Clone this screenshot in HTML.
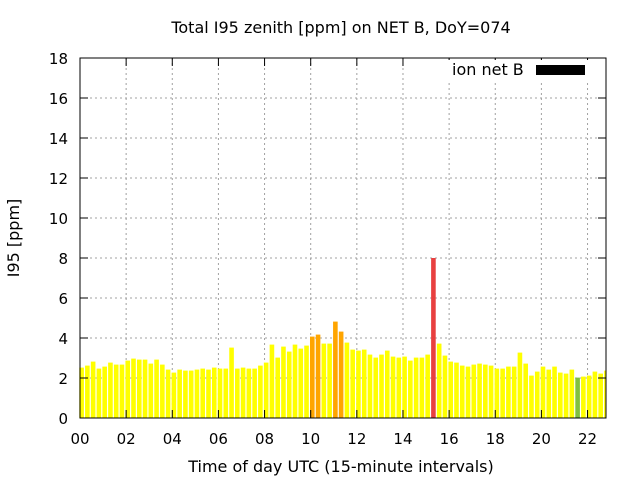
<!DOCTYPE html>
<html><head><meta charset="utf-8"><style>
body{margin:0;background:#fff}
svg{display:block;font-family:"DejaVu Sans","Liberation Sans",sans-serif}
</style></head><body>
<svg id="chart" width="640" height="480" viewBox="0 0 640 480">
<text x="341" y="33" font-size="16" text-anchor="middle">Total I95 zenith [ppm] on NET B, DoY=074</text>
<g id="grid"></g>
<g id="bars"></g>
<g id="axes"></g>
<text x="341" y="472" font-size="16" text-anchor="middle">Time of day UTC (15-minute intervals)</text>
<text transform="translate(19,238) rotate(-90)" font-size="16" text-anchor="middle">I95 [ppm]</text>
<rect x="447" y="60" width="143" height="22" fill="#fff"/>
<text x="452" y="75" font-size="16">ion net B</text>
<rect x="536" y="65" width="49" height="10" fill="#000"/>
</svg>
<script>
const values=[2.52,2.62,2.82,2.47,2.57,2.77,2.67,2.67,2.87,2.97,2.92,2.92,2.72,2.92,2.67,2.42,2.27,2.42,2.37,2.37,2.42,2.47,2.42,2.52,2.47,2.47,3.52,2.47,2.52,2.47,2.47,
2.62,2.77,3.67,3.02,3.57,3.32,3.67,3.47,3.62,4.07,4.17,3.72,3.72,4.82,4.32,3.77,3.42,3.37,3.42,3.17,3.02,3.17,3.37,3.07,3.02,3.07,2.87,3.02,3.02,3.17,
8.0,3.72,3.12,2.82,2.77,2.62,2.57,2.67,2.72,2.67,2.62,2.47,2.47,2.57,2.57,3.27,2.72,2.12,2.32,2.57,2.42,2.57,2.27,2.22,2.42,2.02,2.07,2.12,2.32,2.22,2.37];
const xTicks=["00","02","04","06","08","10","12","14","16","18","20","22"];
const yTicks=[0,2,4,6,8,10,12,14,16,18];
const NS="http://www.w3.org/2000/svg";
const L=80,R=606,T=58,B=418;
const xs=h=>L+h*23.07;
const ys=v=>B-(v/18)*(B-T);
function mk(tag,attrs,parent){const e=document.createElementNS(NS,tag);for(const k in attrs)e.setAttribute(k,attrs[k]);parent.appendChild(e);return e;}
const grid=document.getElementById('grid'),bars=document.getElementById('bars'),axes=document.getElementById('axes');
yTicks.forEach(v=>{
 const y=ys(v);
 if(v>0&&v<18){const g=mk('line',{x1:L,x2:R,y1:y,y2:y,stroke:'#a0a0a0','stroke-dasharray':'2,3','stroke-width':1},grid);
 
 }
 const t=mk('text',{x:L-12,y:y+6,'font-size':15,'text-anchor':'end'},axes);t.textContent=v;
 
 
 mk('line',{x1:L,x2:L+8,y1:y,y2:y,stroke:'#000'},axes);
 mk('line',{x1:R,x2:R-8,y1:y,y2:y,stroke:'#000'},axes);
});
xTicks.forEach((s,i)=>{
 const x=xs(i*2);
 if(i>0){const g=mk('line',{x1:x,x2:x,y1:T,y2:B,stroke:'#a0a0a0','stroke-dasharray':'2,3','stroke-width':1},grid);
 
 }
 const t=mk('text',{x:x,y:444,'font-size':15,'text-anchor':'middle'},axes);t.textContent=s;
 
 
 mk('line',{x1:x,x2:x,y1:B,y2:B-8,stroke:'#000'},axes);
 mk('line',{x1:x,x2:x,y1:T,y2:T+8,stroke:'#000'},axes);
});
function col(v){return v<2.05?'#80c040':v<4?'#ffff00':v<5?'#ffa500':'#e84040';}
values.forEach((v,i)=>{
 const x=xs(i*0.25)-0.7, w=Math.min(4.6,R-x);
 if(w<=0)return;
 const r=mk('rect',{x:x,y:ys(v),width:w,height:B-ys(v),fill:col(v)},bars);
 
 
});
const f=mk('rect',{x:L,y:T,width:R-L,height:B-T,fill:'none',stroke:'#000','stroke-width':1},axes);


</script>
</body></html>
